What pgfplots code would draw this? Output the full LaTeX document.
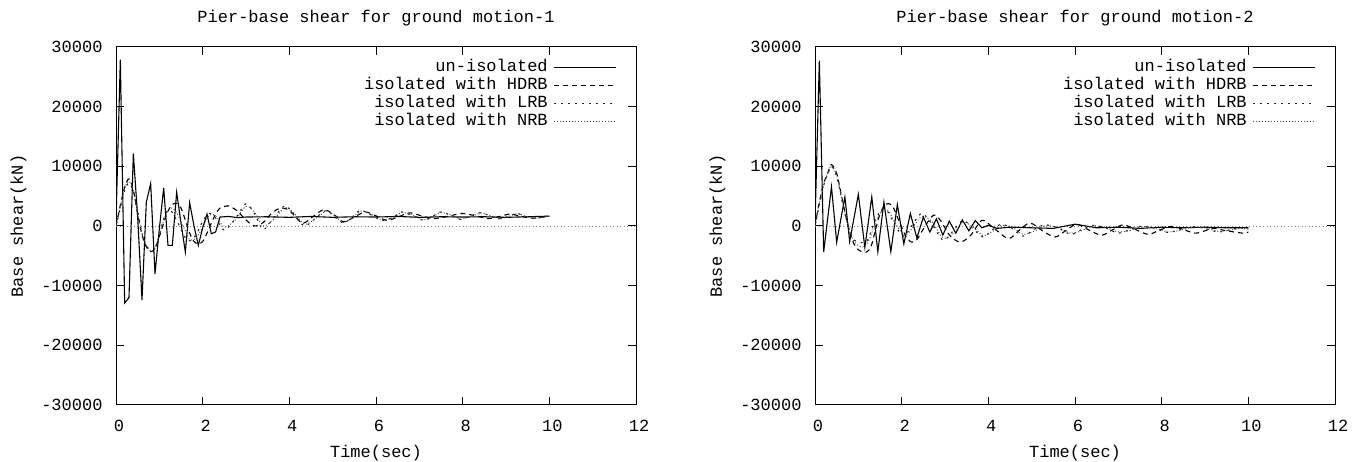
\documentclass[border=0pt]{standalone}
\usepackage{fontspec}
\setmainfont{Liberation Mono}
\usepackage{pgfplots}
\pgfplotsset{compat=1.18}
\newcommand{\gpfont}{\fontsize{17}{18}\selectfont}
\pgfplotsset{gp/.style={
  scale only axis, width=520pt, height=358pt,
  xmin=0, xmax=12, ymin=-30000, ymax=30000,
  scaled y ticks=false, scaled x ticks=false,
  xtick={0,2,4,6,8,10,12}, xticklabels={0,2,4,6,8,10,12},
  ytick={-30000,-20000,-10000,0,10000,20000,30000},
  yticklabels={-30000,-20000,-10000,0,10000,20000,30000},
  tick align=inside, tick pos=both, major tick length=8pt,
  axis line style={line width=1pt},
  every tick/.style={black, line width=1pt},
  tick label style={font=\gpfont},
  xticklabel style={yshift=-12pt, xshift=3pt},
  yticklabel style={xshift=-10pt},
  label style={font=\gpfont},
  xlabel style={yshift=-6pt},
  ylabel style={yshift=8pt},
  title style={font=\gpfont, yshift=11pt},
  xlabel={Time(sec)}, ylabel={Base shear(kN)},
  extra y ticks={0}, extra y tick labels={},
  extra y tick style={grid=major, major grid style={gray, dash pattern=on 1pt off 2.5pt, line width=0.9pt}},
  legend style={draw=none, fill=none, at={(rel axis cs:1,1)}, anchor=north east,
     xshift=-16pt, yshift=-9pt, font=\gpfont, row sep=0pt, column sep=5pt,
     nodes={inner sep=1pt, text height=12pt, text depth=4pt}},
  legend plot pos=right,
  legend cell align=right,
  legend image code/.code={\draw[##1] (0pt,0pt) -- (62pt,0pt);},
  unis/.style={black, line width=1.1pt},
  hdrb/.style={black, line width=1.1pt, dash pattern=on 5pt off 4pt, smooth},
  lrb/.style={black!85, line width=1.1pt, dash pattern=on 2pt off 5pt, smooth},
  nrb/.style={black!70, line width=1pt, dash pattern=on 1pt off 2pt, smooth},
}}
\begin{document}
\begin{tikzpicture}
\useasboundingbox (0pt,0pt) rectangle (1354pt,462pt);
% ---------------- ground motion 1 ----------------
\begin{axis}[gp, at={(116pt,57pt)}, anchor=south west,
  title={Pier-base shear for ground motion-1}]
\addplot[unis] coordinates {
(0,800)(0.1,27900)(0.2,-12900)(0.3,-12000)(0.4,12150)(0.5,1500)(0.6,-12400)
(0.7,4000)(0.8,7100)(0.9,-8000)(1.0,-500)(1.1,6400)(1.2,-3250)(1.3,-3250)
(1.4,5650)(1.5,500)(1.6,-4350)(1.7,3900)(1.8,0)(1.9,-3250)(2.0,-300)
(2.1,2000)(2.2,-1300)(2.3,-1000)(2.4,1500)(2.6,1600)(2.8,1400)(3.0,1500)
(3.5,1550)(4.0,1450)(4.5,1600)(5.0,1450)(5.5,1550)(6.0,1500)(6.5,1600)
(7.0,1450)(7.5,1550)(8.0,1500)(8.5,1550)(9.0,1450)(9.5,1550)(10.0,1650)};
\addlegendentry{un-isolated}
\addplot[hdrb] coordinates {
(0,0)(0.1,3500)(0.2,6500)(0.3,7900)(0.4,6000)(0.5,2000)(0.6,-1500)(0.7,-3500)
(0.8,-4300)(0.9,-3800)(1.0,-1800)(1.1,500)(1.2,2500)(1.3,3600)(1.4,3800)
(1.5,3000)(1.6,1000)(1.7,-1200)(1.8,-2600)(1.9,-3000)(2.0,-2600)(2.1,-1200)
(2.2,500)(2.3,2000)(2.4,3000)(2.6,3350)(2.8,2500)(3.0,1000)(3.2,0)(3.4,600)
(3.6,2200)(3.8,3000)(4.0,2600)(4.3,500)(4.55,1600)(4.8,2750)(5.05,1800)
(5.25,700)(5.5,1500)(5.75,2350)(6.0,1700)(6.25,950)(6.5,1500)(6.78,2200)
(7.05,1700)(7.32,1250)(7.65,1600)(7.98,2100)(8.3,1700)(8.6,1250)(8.85,1600)
(9.1,2000)(9.35,1600)(9.62,1300)(9.8,1450)(10.0,1600)};
\addlegendentry{isolated with HDRB}
\addplot[lrb] coordinates {
(0,0)(0.1,3000)(0.2,6000)(0.3,7200)(0.4,5800)(0.5,2500)(0.6,-1200)(0.7,-3200)
(0.8,-4300)(0.9,-3800)(1.0,-1500)(1.1,1200)(1.2,2600)(1.3,2300)(1.45,200)
(1.6,-2000)(1.7,-2500)(1.85,-1500)(2.0,800)(2.15,2100)(2.3,1300)(2.5,-700)
(2.75,1200)(3.0,3700)(3.2,2000)(3.4,-600)(3.65,1500)(3.9,3400)(4.1,2000)
(4.35,0)(4.6,1300)(4.85,2600)(5.05,1500)(5.25,500)(5.45,1500)(5.65,2650)
(5.9,1800)(6.15,900)(6.4,1500)(6.6,2350)(6.85,1700)(7.1,950)(7.3,1600)
(7.5,2350)(7.75,1700)(7.95,1100)(8.2,1700)(8.42,2250)(8.65,1600)(8.85,1200)
(9.05,1600)(9.25,2100)(9.45,1600)(9.65,1250)(9.85,1500)(10.0,1700)};
\addlegendentry{isolated with LRB}
\addplot[nrb] coordinates {
(0,0)(0.1,3200)(0.2,6300)(0.3,7500)(0.4,6000)(0.5,2200)(0.6,-1300)(0.7,-3300)
(0.8,-4200)(0.9,-3700)(1.0,-1600)(1.1,900)(1.2,2700)(1.3,3000)(1.4,2200)
(1.55,0)(1.7,-2300)(1.85,-2000)(2.0,-200)(2.15,1800)(2.3,1700)(2.5,-200)
(2.75,1000)(3.0,3300)(3.2,2300)(3.4,0)(3.65,1200)(3.9,3100)(4.1,2200)
(4.35,300)(4.6,1200)(4.85,2500)(5.05,1700)(5.25,600)(5.45,1400)(5.65,2500)
(5.9,1900)(6.15,1000)(6.4,1400)(6.6,2250)(6.85,1800)(7.1,1050)(7.3,1500)
(7.5,2250)(7.75,1800)(7.95,1150)(8.2,1650)(8.42,2150)(8.65,1700)(8.85,1250)
(9.05,1550)(9.25,2050)(9.45,1650)(9.65,1300)(9.85,1500)(10.0,1650)};
\addlegendentry{isolated with NRB}
\end{axis}
% ---------------- ground motion 2 ----------------
\begin{axis}[gp, at={(815pt,57pt)}, anchor=south west,
  title={Pier-base shear for ground motion-2}]
\addplot[unis] coordinates {
(0,400)(0.1,27700)(0.2,-4350)(0.38,6550)(0.5,-2700)(0.69,4870)(0.8,-2600)
(1.0,5300)(1.15,-3600)(1.31,4870)(1.45,-4300)(1.59,4000)(1.75,-4300)
(1.9,3600)(2.05,-3000)(2.2,2100)(2.35,-2000)(2.5,1500)(2.65,-1000)
(2.8,1200)(2.95,-1500)(3.1,800)(3.25,-1200)(3.4,1000)(3.55,-800)(3.7,900)
(3.85,-300)(4.0,100)(4.2,-400)(4.5,-200)(5.0,-300)(5.5,-400)(6.0,300)
(6.5,-300)(7.0,-200)(7.5,-400)(8.0,-200)(8.5,-300)(9.0,-200)(9.5,-300)(10.0,-300)};
\addlegendentry{un-isolated}
\addplot[hdrb] coordinates {
(0,0)(0.1,4000)(0.2,7100)(0.3,9000)(0.38,10300)(0.5,8800)(0.6,5500)(0.7,2000)
(0.8,-1000)(0.9,-3000)(1.0,-4000)(1.1,-4300)(1.2,-4350)(1.3,-3300)(1.4,-500)
(1.5,2000)(1.6,3400)(1.7,3750)(1.8,3200)(1.9,1500)(2.0,-200)(2.1,-1800)
(2.23,-2700)(2.35,-2300)(2.5,-500)(2.73,1800)(2.9,900)(3.1,-1500)(3.35,-2700)
(3.6,-1500)(3.85,950)(4.1,-200)(4.46,-2100)(4.7,-800)(4.96,500)(5.25,-800)
(5.54,-1850)(5.8,-700)(6.04,300)(6.3,-600)(6.61,-1550)(6.85,-700)(7.11,200)
(7.4,-600)(7.69,-1400)(7.95,-700)(8.23,-50)(8.5,-600)(8.77,-1200)(9.0,-800)
(9.19,-400)(9.5,-800)(9.88,-1200)(10.0,-1000)};
\addlegendentry{isolated with HDRB}
\addplot[lrb] coordinates {
(0,0)(0.1,3500)(0.2,6800)(0.3,8800)(0.38,10000)(0.5,8300)(0.6,5000)(0.7,1800)
(0.8,-800)(0.9,-2300)(1.0,-2700)(1.1,-2800)(1.2,-2500)(1.3,-800)(1.4,1200)
(1.57,2900)(1.7,2200)(1.85,0)(2.05,-1700)(2.2,-300)(2.46,2100)(2.7,300)
(2.96,-2400)(3.2,-700)(3.42,950)(3.65,-500)(3.88,-1850)(4.1,-600)(4.3,300)
(4.55,-400)(4.8,-1700)(5.05,-600)(5.3,200)(5.6,-300)(5.9,-1400)(6.15,-600)
(6.4,100)(6.7,-300)(7.0,-1200)(7.3,-500)(7.55,0)(7.85,-400)(8.15,-1100)
(8.45,-500)(8.7,-100)(9.0,-400)(9.3,-1000)(9.6,-600)(9.8,-300)(10.0,-500)};
\addlegendentry{isolated with LRB}
\addplot[nrb] coordinates {
(0,0)(0.1,3700)(0.2,7000)(0.3,8900)(0.38,10100)(0.5,8500)(0.6,5200)(0.7,1900)
(0.8,-900)(0.9,-2600)(1.0,-3300)(1.1,-3500)(1.2,-3000)(1.3,-1400)(1.4,800)
(1.57,2700)(1.7,2500)(1.85,500)(2.05,-1500)(2.2,-800)(2.46,1600)(2.7,700)
(2.96,-2000)(3.2,-1200)(3.42,600)(3.65,-200)(3.88,-1600)(4.1,-900)(4.3,100)
(4.55,-200)(4.8,-1400)(5.05,-900)(5.3,0)(5.6,-200)(5.9,-1200)(6.15,-800)
(6.4,0)(6.7,-200)(7.0,-1000)(7.3,-700)(7.55,-100)(7.85,-300)(8.15,-1000)
(8.45,-700)(8.7,-200)(9.0,-300)(9.3,-900)(9.6,-700)(9.8,-400)(10.0,-500)};
\addlegendentry{isolated with NRB}
\end{axis}
\end{tikzpicture}
\end{document}
